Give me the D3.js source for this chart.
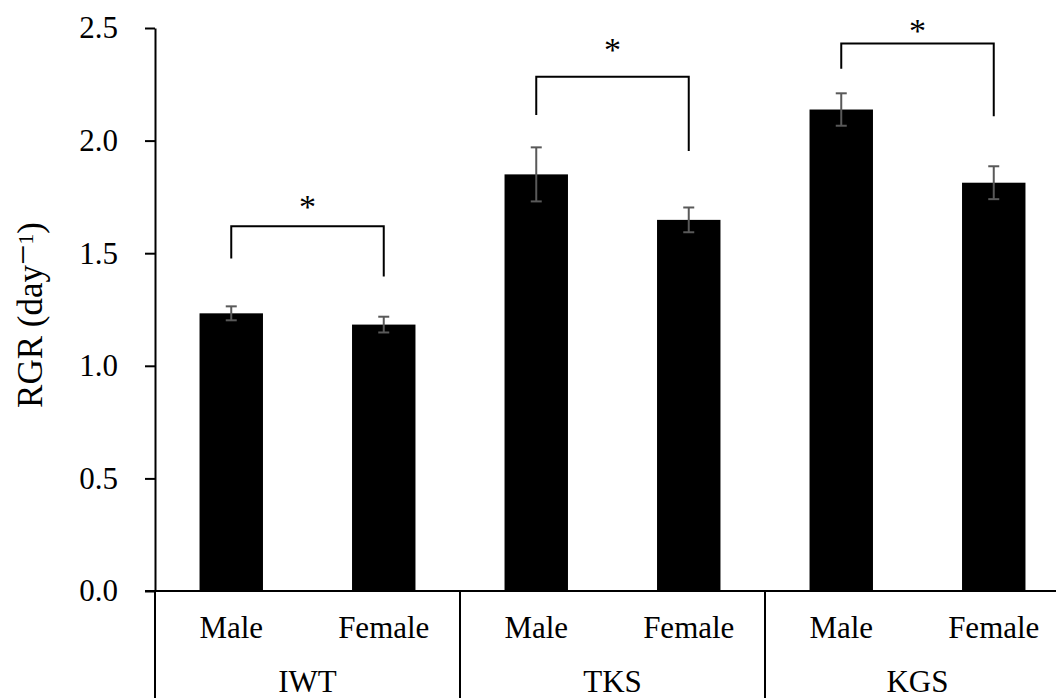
<!DOCTYPE html>
<html>
<head>
<meta charset="utf-8">
<script src="https://cdn.jsdelivr.net/npm/d3@7"></script>
<style>
  body { margin: 0; background: #fff; }
  text { font-family: "Liberation Serif", "Times New Roman", serif; }
</style>
</head>
<body>
<svg id="chart" width="1056" height="698"></svg>
<script>
// ---- data ----
const groups = ["IWT", "TKS", "KGS"];
const sexes = ["Male", "Female"];
const maleValues   = [1.233, 1.850, 2.138];
const femaleValues = [1.183, 1.648, 1.813];
const maleErrors   = [0.031, 0.120, 0.072];
const femaleErrors = [0.035, 0.055, 0.073];
// significance brackets (data units)
const bracketTop      = [1.620, 2.284, 2.431];
const bracketLeftEnd  = [1.476, 2.114, 2.319];
const bracketRightEnd = [1.396, 1.954, 2.108];
const starLevel       = [1.729, 2.429, 2.513];
const starLabel       = ["*", "*", "*"];
const yTicks = [0, 0.5, 1.0, 1.5, 2.0, 2.5];
const yTitle = "RGR (day";
const yTitleMinus = "\u2212";
const yTitleExp = "1";

(function () {
// ---- layout ----
const svg = d3.select("#chart");
const plotL = 155, plotR = 1070, plotT = 28, plotB = 591, svgH = 698;
const fs = 31;
const starFs = 34;

const x0 = d3.scaleBand().domain(groups).range([plotL, plotR]).padding(0);
const gap = 0.584;
const x1 = d3.scaleBand().domain(sexes).range([0, x0.bandwidth()])
  .paddingInner(gap).paddingOuter(gap / 2);
const y = d3.scaleLinear().domain([0, 2.5]).range([plotB, plotT]);

const rows = [];
groups.forEach((g, i) => {
  rows.push({ g, s: "Male", v: maleValues[i], e: maleErrors[i] });
  rows.push({ g, s: "Female", v: femaleValues[i], e: femaleErrors[i] });
});
const cx = d => x0(d.g) + x1(d.s) + x1.bandwidth() / 2;

// bars
svg.append("g").selectAll("rect").data(rows).join("rect")
  .attr("x", d => x0(d.g) + x1(d.s))
  .attr("width", x1.bandwidth())
  .attr("y", d => y(d.v))
  .attr("height", d => y(0) - y(d.v))
  .attr("fill", "#000");

// error bars
const eb = svg.append("g").attr("stroke", "#595959").attr("stroke-width", 2).attr("fill", "none");
rows.forEach(d => {
  const c = cx(d), cw = 5.5;
  eb.append("line").attr("x1", c).attr("x2", c).attr("y1", y(d.v + d.e)).attr("y2", y(d.v - d.e));
  eb.append("line").attr("x1", c - cw).attr("x2", c + cw).attr("y1", y(d.v + d.e)).attr("y2", y(d.v + d.e));
  eb.append("line").attr("x1", c - cw).attr("x2", c + cw).attr("y1", y(d.v - d.e)).attr("y2", y(d.v - d.e));
});

// brackets + asterisks
groups.forEach((g, i) => {
  const xl = x0(g) + x1("Male") + x1.bandwidth() / 2;
  const xr = x0(g) + x1("Female") + x1.bandwidth() / 2;
  svg.append("path")
    .attr("d", `M${xl},${y(bracketLeftEnd[i])}V${y(bracketTop[i])}H${xr}V${y(bracketRightEnd[i])}`)
    .attr("fill", "none").attr("stroke", "#000").attr("stroke-width", 2);
  svg.append("text")
    .attr("x", (xl + xr) / 2)
    .attr("y", y(starLevel[i]) + 0.49 * starFs)
    .attr("text-anchor", "middle")
    .attr("font-size", starFs)
    .attr("fill", "#000")
    .text(starLabel[i]);
});

// y axis
const yAxis = d3.axisLeft(y).tickValues(yTicks).tickFormat(d3.format(".1f"))
  .tickSizeInner(10).tickSizeOuter(0).tickPadding(27);
const ya = svg.append("g").attr("transform", `translate(${plotL},0)`).call(yAxis);
ya.select(".domain").attr("stroke", "#000").attr("stroke-width", 2);
ya.selectAll(".tick line").attr("stroke", "#000").attr("stroke-width", 2);
ya.selectAll(".tick text").attr("font-size", fs).attr("fill", "#000")
  .attr("font-family", "'Liberation Serif', serif");

// x axis line
svg.append("line").attr("x1", plotL - 10).attr("x2", plotR).attr("y1", plotB).attr("y2", plotB)
  .attr("stroke", "#000").attr("stroke-width", 2);

// group separators
const seps = groups.map(g => x0(g)).concat([plotR]);
svg.append("g").selectAll("line").data(seps).join("line")
  .attr("x1", d => d).attr("x2", d => d).attr("y1", plotB).attr("y2", svgH)
  .attr("stroke", "#000").attr("stroke-width", 2);

// category labels
svg.append("g").selectAll("text").data(rows).join("text")
  .attr("x", cx).attr("y", 638).attr("text-anchor", "middle")
  .attr("font-size", fs).attr("fill", "#000").text(d => d.s);
svg.append("g").selectAll("text").data(groups).join("text")
  .attr("x", d => x0(d) + x0.bandwidth() / 2).attr("y", 692).attr("text-anchor", "middle")
  .attr("font-size", fs).attr("fill", "#000").text(d => d);

// y title
const yt = svg.append("text")
  .attr("transform", "translate(42,315) rotate(-90)")
  .attr("text-anchor", "middle").attr("font-size", 35).attr("fill", "#000");
yt.append("tspan").text(yTitle);
yt.append("tspan").attr("font-size", 36).attr("dy", -7.5).text(yTitleMinus);
yt.append("tspan").attr("font-size", 22).attr("dy", -1.5).text(yTitleExp);
yt.append("tspan").attr("dy", 9).text(")");
})();
</script>
</body>
</html>
